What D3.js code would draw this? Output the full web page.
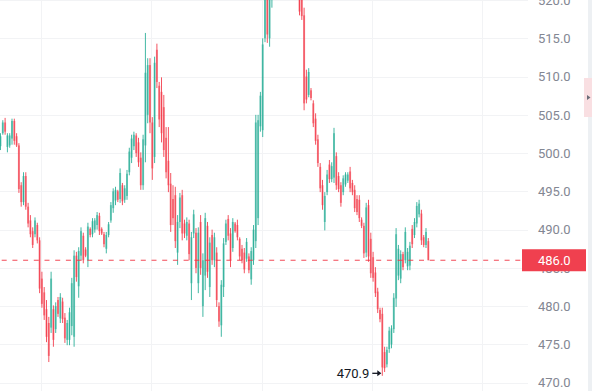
<!DOCTYPE html>
<html><head><meta charset="utf-8">
<script src="https://cdn.jsdelivr.net/npm/d3@7/dist/d3.min.js"></script>
<style>html,body{margin:0;padding:0;background:#fff;overflow:hidden}</style>
</head><body><div id="chart"></div>
<script>
const opens=[500.9,502.6,504.0,500.8,501.0,501.9,504.2,502.2,501.0,495.8,
493.6,497.0,493.0,491.2,489.8,489.4,490.6,488.6,483.6,481.8,
479.6,477.8,477.2,479.6,477.0,480.8,478.4,480.6,478.5,475.6,
475.6,477.4,476.0,486.6,482.6,486.6,489.2,487.4,486.0,490.1,
489.4,490.0,490.6,491.8,490.1,489.4,487.5,489.3,491.2,492.8,
493.8,495.0,494.0,495.8,493.9,494.4,497.5,499.4,500.9,502.3,
501.4,499.4,495.8,501.0,505.0,511.5,504.0,499.5,513.5,508.8,
508.0,506.0,502.0,499.0,496.0,494.0,494.5,487.0,491.0,494.5,
490.8,489.2,490.8,483.0,489.5,489.6,483.0,491.0,480.0,484.0,
490.5,482.5,489.3,486.0,487.0,480.0,477.5,482.5,488.4,491.4,
489.5,487.6,490.8,490.6,488.8,487.5,487.0,486.2,486.5,483.5,
486.0,488.5,491.5,503.5,503.0,515.0,521.5,515.0,520.0,524.0,
526.0,524.6,527.2,526.0,528.2,526.4,524.8,526.3,524.0,522.6,
521.2,520.3,518.0,510.0,507.6,508.2,506.5,504.5,501.8,498.2,
495.8,491.0,494.9,498.5,496.6,496.8,499.6,497.0,495.8,494.9,
495.9,496.4,497.6,496.1,495.2,494.0,493.9,491.3,490.5,487.0,
493.2,488.8,486.4,484.4,481.9,479.5,479.0,474.0,472.4,474.4,
475.0,477.0,481.0,484.0,483.6,486.8,486.0,485.2,485.3,490.1,
489.3,490.8,492.0,492.1,489.0,488.0,488.5];
const highs=[502.6,504.3,504.6,502.6,502.6,504.5,504.5,502.6,501.3,496.2,
497.5,497.5,493.5,491.9,490.3,491.6,490.9,489.0,484.5,482.5,
480.8,478.6,484.5,480.1,480.5,481.2,481.7,481.1,479.1,478.2,
479.8,483.7,487.3,487.1,487.7,490.3,489.6,487.7,490.9,490.3,
491.5,491.5,492.3,492.2,490.3,489.7,489.7,491.0,493.6,495.4,
495.6,495.2,498.0,496.1,495.8,497.8,500.7,502.4,502.8,502.6,
502.0,500.1,502.4,515.7,512.4,512.4,504.7,512.6,514.3,509.3,
509.9,507.6,503.4,503.4,497.4,495.8,495.6,491.9,494.8,495.2,
491.3,491.6,491.3,489.7,492.6,490.2,490.3,491.9,486.9,492.2,
491.0,489.0,490.0,489.6,487.7,480.5,483.4,488.9,491.3,491.9,
490.2,491.5,491.0,491.3,489.0,488.0,487.6,488.9,486.9,487.7,
490.6,505.0,505.0,508.0,515.0,522.0,522.5,523.0,524.5,526.5,
527.0,527.8,528.5,528.8,529.0,527.5,527.0,527.0,525.0,523.5,
521.5,520.8,519.0,510.9,511.1,508.5,506.9,505.2,502.4,498.7,
496.5,494.9,497.8,499.1,498.8,503.3,500.1,497.5,496.2,497.1,
497.5,497.5,498.2,496.5,495.8,494.5,494.5,491.6,490.9,493.5,
493.9,489.6,487.1,485.1,482.4,479.8,479.8,474.7,474.7,477.3,
477.5,481.7,490.2,488.0,487.3,487.1,490.3,487.6,488.4,490.6,
491.5,493.6,493.9,492.6,489.3,490.2,488.9];
const lows=[500.4,502.4,502.4,500.1,500.7,501.1,501.1,500.8,494.8,493.0,
493.2,492.6,490.3,489.0,487.6,489.0,488.2,481.7,479.8,478.2,
475.3,472.7,476.5,474.7,476.5,478.6,477.8,477.8,475.2,474.9,
474.9,476.2,474.7,483.2,481.1,486.0,485.6,486.4,485.1,489.0,
489.0,489.6,490.0,489.3,489.3,487.7,486.9,489.0,490.9,492.2,
493.2,493.6,493.5,493.2,493.5,493.9,497.1,498.7,500.4,499.5,
498.2,495.2,495.2,498.8,503.9,502.6,496.5,498.7,508.5,503.4,
501.4,499.5,496.7,494.9,489.7,490.6,487.6,485.4,490.2,488.6,
488.9,488.6,486.0,480.8,488.9,484.3,481.7,484.1,478.6,482.1,
483.7,481.2,485.4,485.1,479.9,477.3,476.0,481.2,488.0,488.6,
485.1,487.1,489.6,488.6,486.0,485.6,484.3,485.8,484.3,482.8,
485.4,487.6,490.6,502.8,502.1,514.5,514.4,513.9,519.0,523.2,
524.0,524.0,525.5,525.4,525.8,524.2,524.0,523.5,522.0,521.0,
518.0,517.4,505.6,506.5,507.3,506.9,503.4,501.1,498.2,494.9,
492.6,489.9,494.5,496.1,496.2,496.1,495.2,494.9,493.0,494.5,
495.6,496.1,494.9,494.5,492.3,491.9,491.0,490.2,486.3,486.4,
485.8,483.7,483.2,481.2,479.1,477.9,470.9,471.4,472.0,473.9,
474.5,476.5,479.9,483.4,483.0,484.7,485.6,484.7,484.7,487.6,
488.9,490.3,491.6,488.0,487.7,487.6,486.0];
const closes=[502.2,504.0,502.8,502.3,502.3,504.2,501.6,501.0,495.3,493.6,
497.0,493.0,490.8,489.4,488.0,491.2,488.6,482.3,480.3,478.8,
476.0,473.5,483.6,475.6,480.0,479.0,481.2,478.3,475.8,477.8,
479.2,483.0,486.6,483.8,487.2,489.8,486.0,486.6,490.4,489.3,
491.1,491.2,491.9,489.8,489.5,488.1,489.3,490.7,493.2,495.0,
495.2,493.9,497.4,493.7,495.4,497.3,500.2,501.9,502.4,500.0,
498.8,495.8,501.8,510.5,511.5,504.0,498.0,511.8,509.3,504.4,
502.6,500.4,497.5,495.8,490.6,491.5,488.5,491.0,494.2,489.5,
489.5,491.0,486.8,489.0,492.0,485.0,489.6,485.0,486.0,491.5,
484.5,488.3,486.0,489.0,480.8,478.0,482.8,488.2,490.8,489.2,
486.0,491.0,489.8,489.0,486.5,486.0,484.8,488.4,484.7,487.2,
490.0,504.0,504.3,507.5,514.2,521.0,515.5,522.3,524.0,526.0,
524.6,527.2,526.0,528.2,526.4,524.8,526.3,524.0,522.6,521.6,
518.5,517.9,506.5,507.0,510.6,507.2,503.9,501.6,498.7,495.4,
493.2,494.4,497.2,496.6,498.3,502.6,495.8,495.3,493.5,496.7,
497.2,497.2,495.4,494.9,492.8,492.3,491.5,490.5,486.9,492.9,
486.5,484.3,483.7,481.7,479.6,478.3,472.0,471.9,474.3,476.8,
477.1,481.1,489.4,487.5,486.8,485.1,489.7,487.1,487.9,488.1,
491.0,493.1,493.4,488.6,488.0,489.7,486.0];
const priceTicks=[470,475,480,485,490,495,500,505,510,515,520];
const timeGridIdx=[17.5,65.5,113.5,161.5,209.5];
const lastPrice=486.0;
const lowMark={label:"470.9",value:470.9};

const W=600,H=391,plotR=528;
const upC="#22ab94", dnC="#f23645";
const svg=d3.select("#chart").append("svg").attr("width",W).attr("height",H)
  .style("font-family","Roboto, 'Noto Sans', sans-serif");
const x=d3.scaleLinear().domain([0,186]).range([0.5,428.3]);
const y=d3.scaleLinear().domain([470,515]).range([382.7,38.3]);

// grid
const g=svg.append("g");
g.selectAll("line.h").data(priceTicks).join("line")
  .attr("x1",0).attr("x2",plotR).attr("y1",d=>Math.round(y(d))+0.5).attr("y2",d=>Math.round(y(d))+0.5)
  .attr("stroke","#f2f3f5").attr("stroke-width",1);
g.selectAll("line.v").data(timeGridIdx).join("line")
  .attr("x1",d=>Math.round(x(d))+0.5).attr("x2",d=>Math.round(x(d))+0.5).attr("y1",0).attr("y2",H)
  .attr("stroke","#f2f3f5").attr("stroke-width",1);

// candles
const data=opens.map((o,i)=>({i,o,h:highs[i],l:lows[i],c:closes[i]}));
const cg=svg.append("g");
const bars=cg.selectAll("g").data(data).join("g");
bars.append("rect")
  .attr("x",d=>x(d.i)-1).attr("width",2)
  .attr("y",d=>y(Math.max(d.o,d.c))).attr("height",d=>Math.max(1,y(Math.min(d.o,d.c))-y(Math.max(d.o,d.c))))
  .attr("fill",d=>d.c>=d.o?upC:dnC).attr("opacity",0.55);
bars.append("rect")
  .attr("x",d=>x(d.i)-0.5).attr("width",1)
  .attr("y",d=>y(d.h)).attr("height",d=>Math.max(1,y(d.l)-y(d.h)))
  .attr("fill",d=>d.c>=d.o?upC:dnC).attr("opacity",0.85);

// price line
svg.append("line").attr("x1",0).attr("x2",522).attr("y1",y(lastPrice)).attr("y2",y(lastPrice))
  .attr("stroke",dnC).attr("stroke-width",1).attr("stroke-dasharray","5,5.7").attr("stroke-dashoffset",-1.7)
  .attr("opacity",0.9);

// axis labels
svg.append("g").selectAll("text").data(priceTicks).join("text")
  .attr("x",538).attr("y",d=>y(d)).attr("dy","0.36em")
  .attr("font-size",13).attr("fill","#838793").text(d=>d.toFixed(1));

// last price label
svg.append("rect").attr("x",522).attr("y",y(lastPrice)-11).attr("width",64).attr("height",22)
  .attr("fill","#f0404f");
svg.append("text").attr("x",538).attr("y",y(lastPrice)).attr("dy","0.36em")
  .attr("font-size",13).attr("fill","#fff").text(lastPrice.toFixed(1));

// low marker
const li=lows.indexOf(lowMark.value);
const ax=x(li)-1, ay=y(lowMark.value)-2.5;
svg.append("text").attr("x",ax-12).attr("y",ay).attr("dy","0.36em")
  .attr("text-anchor","end").attr("font-size",13).attr("fill","#131722").text(lowMark.label);
svg.append("path").attr("d",`M${ax-9},${ay} L${ax-1},${ay}`).attr("stroke","#131722").attr("stroke-width",1.3);
svg.append("path").attr("d",`M${ax-4},${ay-3} L${ax},${ay} L${ax-4},${ay+3} Z`).attr("fill","#131722");

// right strip and tab
svg.append("rect").attr("x",588).attr("y",0).attr("width",4).attr("height",H).attr("fill","#edf0f3");
svg.append("rect").attr("x",584).attr("y",78).attr("width",8).attr("height",39).attr("fill","#f9dfe2");
svg.append("path").attr("d","M587,95 L590.5,97.5 L587,100 Z").attr("fill","#6a6d78");
</script></body></html>
